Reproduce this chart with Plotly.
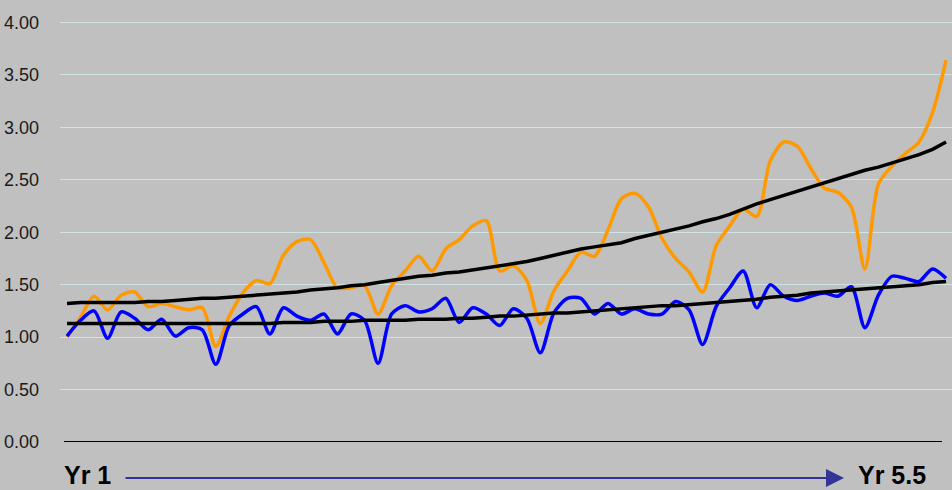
import plotly.graph_objects as go

months = list(range(66))

orange = [1.00, 1.19, 1.39, 1.26, 1.40, 1.43, 1.29, 1.32, 1.29, 1.26,
          1.28, 0.91, 1.20, 1.42, 1.54, 1.51, 1.78, 1.91, 1.93, 1.71,
          1.47, 1.47, 1.49, 1.22, 1.49, 1.63, 1.77, 1.63, 1.84, 1.93,
          2.06, 2.11, 1.63, 1.68, 1.54, 1.13, 1.44, 1.63, 1.81, 1.77,
          2.02, 2.32, 2.37, 2.24, 1.94, 1.75, 1.62, 1.43, 1.87, 2.06,
          2.22, 2.15, 2.68, 2.86, 2.82, 2.61, 2.42, 2.38, 2.24, 1.65,
          2.46, 2.63, 2.75, 2.86, 3.14, 3.64]

blue = [1.01, 1.16, 1.25, 0.99, 1.24, 1.18, 1.07, 1.17, 1.01, 1.09,
        1.07, 0.74, 1.11, 1.22, 1.29, 1.03, 1.28, 1.20, 1.16, 1.22,
        1.03, 1.22, 1.16, 0.75, 1.22, 1.30, 1.24, 1.27, 1.37, 1.14,
        1.28, 1.22, 1.11, 1.27, 1.18, 0.85, 1.23, 1.37, 1.37, 1.22,
        1.32, 1.22, 1.27, 1.22, 1.22, 1.34, 1.26, 0.93, 1.29, 1.47,
        1.63, 1.28, 1.50, 1.39, 1.35, 1.39, 1.42, 1.39, 1.48, 1.09,
        1.40, 1.58, 1.56, 1.53, 1.65, 1.56]

orange_trend = [1.32, 1.33, 1.33, 1.33, 1.33, 1.33, 1.34, 1.34, 1.35, 1.36,
                1.37, 1.37, 1.38, 1.39, 1.40, 1.41, 1.42, 1.43, 1.45, 1.46,
                1.47, 1.49, 1.50, 1.52, 1.54, 1.56, 1.58, 1.59, 1.61, 1.62,
                1.64, 1.66, 1.68, 1.70, 1.72, 1.75, 1.78, 1.81, 1.84, 1.86,
                1.88, 1.90, 1.94, 1.97, 2.00, 2.03, 2.06, 2.10, 2.13, 2.17,
                2.22, 2.27, 2.31, 2.35, 2.39, 2.43, 2.47, 2.51, 2.55, 2.59,
                2.62, 2.66, 2.70, 2.74, 2.79, 2.86]

blue_trend = [1.13, 1.13, 1.13, 1.13, 1.13, 1.13, 1.13, 1.13, 1.13, 1.13,
              1.13, 1.13, 1.13, 1.13, 1.13, 1.13, 1.14, 1.14, 1.14, 1.15,
              1.15, 1.15, 1.16, 1.16, 1.16, 1.16, 1.17, 1.17, 1.17, 1.18,
              1.18, 1.19, 1.20, 1.20, 1.21, 1.22, 1.23, 1.23, 1.24, 1.25,
              1.26, 1.27, 1.28, 1.29, 1.30, 1.30, 1.31, 1.32, 1.33, 1.34,
              1.35, 1.36, 1.38, 1.39, 1.40, 1.42, 1.43, 1.44, 1.45, 1.46,
              1.47, 1.48, 1.49, 1.50, 1.52, 1.53]

y_ticks = [0, 0.5, 1.0, 1.5, 2.0, 2.5, 3.0, 3.5, 4.0]
y_tick_text = ["0.00", "0.50", "1.00", "1.50", "2.00", "2.50", "3.00", "3.50", "4.00"]
start_label = "Yr 1"
end_label = "Yr 5.5"

fig = go.Figure()
fig.add_trace(go.Scatter(x=months, y=orange, mode="lines", cliponaxis=False,
                         line=dict(color="#FF9900", width=3.5, shape="spline", smoothing=0.8),
                         showlegend=False))
fig.add_trace(go.Scatter(x=months, y=blue, mode="lines", cliponaxis=False,
                         line=dict(color="#0000FF", width=3.5, shape="spline", smoothing=0.8),
                         showlegend=False))
fig.add_trace(go.Scatter(x=months, y=orange_trend, mode="lines", cliponaxis=False,
                         line=dict(color="#000000", width=3.5),
                         showlegend=False))
fig.add_trace(go.Scatter(x=months, y=blue_trend, mode="lines", cliponaxis=False,
                         line=dict(color="#000000", width=3.5),
                         showlegend=False))

L, B, T = 60, 48, 10
plot_w = 952 - L
plot_h = 490 - B - T
ppu = 104.9

fig.update_layout(
    width=952, height=490,
    margin=dict(l=L, r=0, t=T, b=B, autoexpand=False),
    paper_bgcolor="#C0C0C0",
    plot_bgcolor="#C0C0C0",
    xaxis=dict(range=[-0.52, 65.44], showgrid=False, zeroline=False,
               showticklabels=False, showline=False, automargin=False),
    yaxis=dict(range=[0, plot_h / ppu], tickvals=y_ticks, ticktext=y_tick_text,
               showgrid=True, gridcolor="#CCE4E4", gridwidth=1,
               zeroline=False, showline=False, ticklabelstandoff=20, automargin=False,
               tickfont=dict(family="Liberation Sans, Arial", size=18, color="#1A1A1A")),
)

# zero baseline
fig.add_shape(type="line", xref="paper", yref="y",
              x0=(64 - L) / plot_w, x1=(942 - L) / plot_w, y0=0, y1=0,
              line=dict(color="#000000", width=2))

lab_y = -(475 - (490 - B)) / plot_h
fig.add_annotation(text="<b>" + start_label + "</b>", xref="paper", yref="paper",
                   x=(62 - L) / plot_w, y=lab_y, xanchor="left", yanchor="middle",
                   showarrow=False,
                   font=dict(family="Liberation Sans, Arial", size=25, color="#000000"))
fig.add_annotation(text="<b>" + end_label + "</b>", xref="paper", yref="paper",
                   x=(856 - L) / plot_w, y=lab_y, xanchor="left", yanchor="middle",
                   showarrow=False,
                   font=dict(family="Liberation Sans, Arial", size=25, color="#000000"))

arr_y = -(478 - (490 - B)) / plot_h
fig.add_annotation(text="", xref="paper", yref="paper",
                   x=(844 - L) / plot_w, y=arr_y,
                   axref="pixel", ayref="pixel",
                   ax=-(844 - 124), ay=0,
                   showarrow=True, arrowhead=2, arrowsize=2, arrowwidth=1.8,
                   arrowcolor="#333399")

fig.write_html("out.html", config={"displayModeBar": False},
               post_script="document.body.style.margin='0';document.body.style.background='#C0C0C0';")
